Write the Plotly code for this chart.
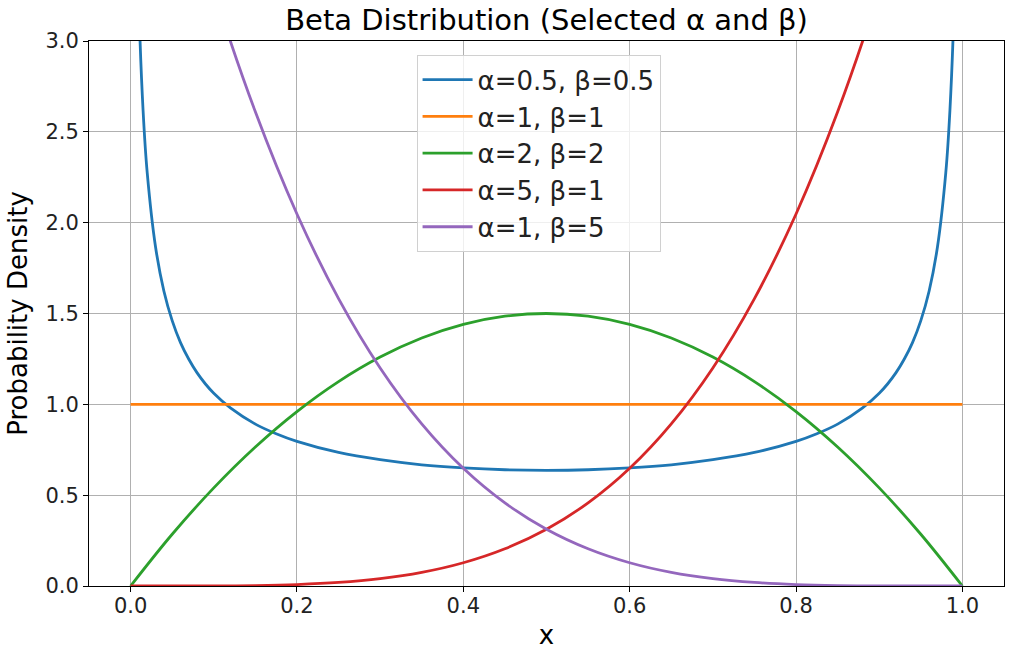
import plotly.graph_objects as go

# values
x_arc = [0.002, 0.005, 0.01, 0.015, 0.02, 0.03, 0.04, 0.05, 0.06, 0.07, 0.08, 0.09, 0.10,
         0.12, 0.15, 0.175, 0.20, 0.25, 0.30, 0.35, 0.40, 0.45, 0.50, 0.55, 0.60, 0.65,
         0.70, 0.75, 0.80, 0.825, 0.85, 0.88, 0.90, 0.91, 0.92, 0.93, 0.94, 0.95, 0.96,
         0.97, 0.98, 0.985, 0.99, 0.995, 0.998]
y_arc = [7.12, 4.51, 3.199, 2.619, 2.274, 1.866, 1.624, 1.461, 1.340, 1.248, 1.173, 1.112, 1.061,
         0.980, 0.891, 0.838, 0.796, 0.735, 0.695, 0.667, 0.650, 0.640, 0.637, 0.640, 0.650, 0.667,
         0.695, 0.735, 0.796, 0.838, 0.891, 0.980, 1.061, 1.112, 1.173, 1.248, 1.340, 1.461, 1.624,
         1.866, 2.274, 2.619, 3.199, 4.51, 7.12]

x_uni = [0.0, 1.0]
y_uni = [1.0, 1.0]

x_grid = [0.0, 0.05, 0.10, 0.15, 0.20, 0.25, 0.30, 0.35, 0.40, 0.45, 0.50,
          0.55, 0.60, 0.65, 0.70, 0.75, 0.80, 0.85, 0.90, 0.95, 1.0]
y_22 = [0.0, 0.285, 0.54, 0.765, 0.96, 1.125, 1.26, 1.365, 1.44, 1.485, 1.5,
        1.485, 1.44, 1.365, 1.26, 1.125, 0.96, 0.765, 0.54, 0.285, 0.0]
y_51 = [0.0, 0.00003, 0.0005, 0.0025, 0.008, 0.0195, 0.0405, 0.075, 0.128, 0.205, 0.3125,
        0.4575, 0.648, 0.8925, 1.2005, 1.582, 2.048, 2.61, 3.28, 4.07, 5.0]
y_15 = [5.0, 4.07, 3.28, 2.61, 2.048, 1.582, 1.2005, 0.8925, 0.648, 0.4575, 0.3125,
        0.205, 0.128, 0.075, 0.0405, 0.0195, 0.008, 0.0025, 0.0005, 0.00003, 0.0]

labels = ["α=0.5, β=0.5", "α=1, β=1", "α=2, β=2", "α=5, β=1", "α=1, β=5"]
colors = ["#1f77b4", "#ff7f0e", "#2ca02c", "#d62728", "#9467bd"]
series = [(x_arc, y_arc), (x_uni, y_uni), (x_grid, y_22), (x_grid, y_51), (x_grid, y_15)]

fig = go.Figure()
for (xs, ys), name, c in zip(series, labels, colors):
    fig.add_trace(go.Scatter(x=xs, y=ys, mode="lines", name=name,
                             line=dict(color=c, width=2.8, shape="spline", smoothing=1.0)))

font = "DejaVu Sans"
axis = dict(showline=True, linecolor="black", linewidth=1, mirror=True,
            ticks="outside", ticklen=5, tickcolor="black", automargin=False,
            showgrid=True, gridcolor="#b0b0b0", gridwidth=1, zeroline=False,
            tickfont=dict(family=font, size=21, color="#222"))

fig.update_layout(
    width=1014, height=654,
    margin=dict(l=89, r=10, t=41, b=68),
    plot_bgcolor="white", paper_bgcolor="white",
    title=dict(text="Beta Distribution (Selected α and β)", x=0.539, xanchor="center",
               y=0.969, yanchor="middle", automargin=False,
               font=dict(family=font, size=29, color="black")),
    xaxis=dict(axis, range=[-0.05, 1.05], tickvals=[0.0, 0.2, 0.4, 0.6, 0.8, 1.0],
               ticktext=["0.0", "0.2", "0.4", "0.6", "0.8", "1.0"],
               ticklabelstandoff=-4,
               title=dict(text="x", font=dict(family=font, size=26, color="black"), standoff=8)),
    yaxis=dict(axis, range=[0, 3.0], tickvals=[0, 0.5, 1.0, 1.5, 2.0, 2.5, 3.0],
               ticktext=["0.0", "0.5", "1.0", "1.5", "2.0", "2.5", "3.0"],
               title=dict(text="Probability Density", font=dict(family=font, size=26, color="black"),
                          standoff=10)),
    legend=dict(x=0.358, y=0.974, xanchor="left", yanchor="top",
                bgcolor="rgba(255,255,255,0.8)", bordercolor="#d0d0d0", borderwidth=1,
                font=dict(family=font, size=26, color="#222"), itemwidth=50),
    showlegend=True,
)

# drop the browser's default body margin so the figure sits at the page corner
fig.write_html("out.html", config={"displayModeBar": False},
               post_script="document.body.style.margin = '0';")
